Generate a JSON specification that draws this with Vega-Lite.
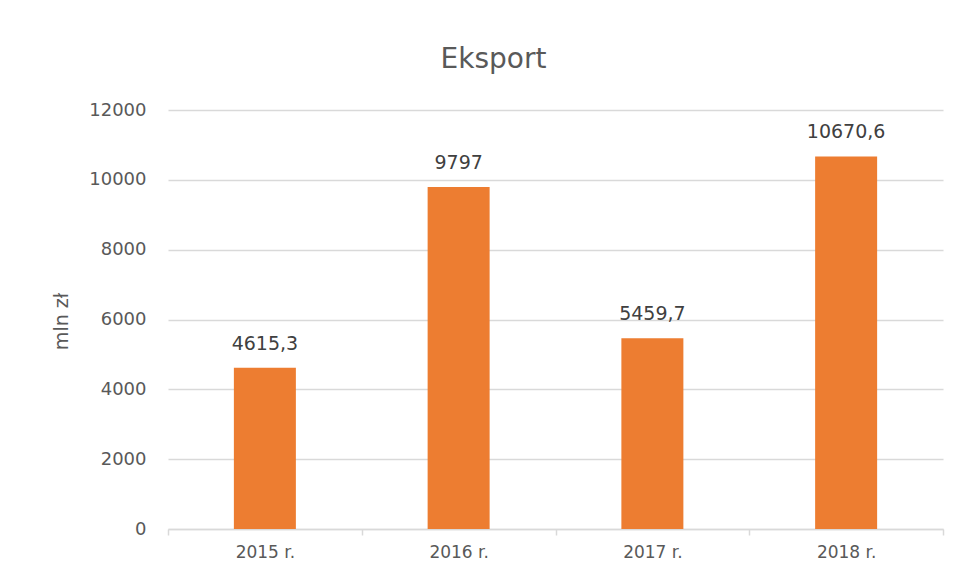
{
  "$schema": "https://vega.github.io/schema/vega-lite/v6.json",
  "width": 775,
  "height": 419,
  "autosize": {"type": "none"},
  "padding": {"left": 168, "top": 110, "right": 15, "bottom": 52},
  "background": "white",
  "config": {
    "view": {"stroke": null},
    "font": "DejaVu Sans",
    "locale": {"number": {"decimal": ",", "thousands": "", "grouping": [3], "currency": ["", ""]}}
  },
  "title": {
    "text": "Eksport",
    "font": "DejaVu Sans",
    "fontSize": 28,
    "fontWeight": "normal",
    "color": "#595959",
    "anchor": "middle",
    "dx": -62,
    "offset": 27
  },
  "data": {
    "values": [
      {"year": "2015 r.", "value": 4615.3},
      {"year": "2016 r.", "value": 9797},
      {"year": "2017 r.", "value": 5459.7},
      {"year": "2018 r.", "value": 10670.6}
    ]
  },
  "encoding": {
    "x": {
      "field": "year",
      "type": "nominal",
      "sort": null,
      "scale": {"paddingInner": 0, "paddingOuter": 0},
      "axis": {
        "title": null,
        "labelAngle": 0,
        "labelFontSize": 17,
        "labelColor": "#595959",
        "labelPadding": 9,
        "domainColor": "#d9d9d9",
        "domainWidth": 1.5,
        "tickColor": "#d9d9d9",
        "tickWidth": 1.5,
        "tickSize": 6,
        "tickBand": "extent"
      }
    },
    "y": {
      "field": "value",
      "type": "quantitative",
      "scale": {"domain": [0, 12000], "nice": false},
      "axis": {
        "title": "mln zł",
        "titleFontSize": 19,
        "titleFontWeight": "normal",
        "titleColor": "#595959",
        "titleAngle": -90,
        "titleX": -107,
        "titleY": 211,
        "titleAlign": "center",
        "titleBaseline": "middle",
        "values": [0, 2000, 4000, 6000, 8000, 10000, 12000],
        "format": "d",
        "labelFontSize": 18,
        "labelColor": "#595959",
        "labelPadding": 22,
        "ticks": false,
        "domain": false,
        "gridColor": "#d9d9d9",
        "gridWidth": 1.5
      }
    }
  },
  "layer": [
    {
      "mark": {"type": "bar", "color": "#ED7D31", "width": {"band": 0.32}}
    },
    {
      "mark": {"type": "text", "dy": -18, "fontSize": 19, "color": "#404040", "baseline": "alphabetic"},
      "encoding": {
        "text": {"field": "value", "type": "quantitative", "format": "~f"}
      }
    }
  ]
}
